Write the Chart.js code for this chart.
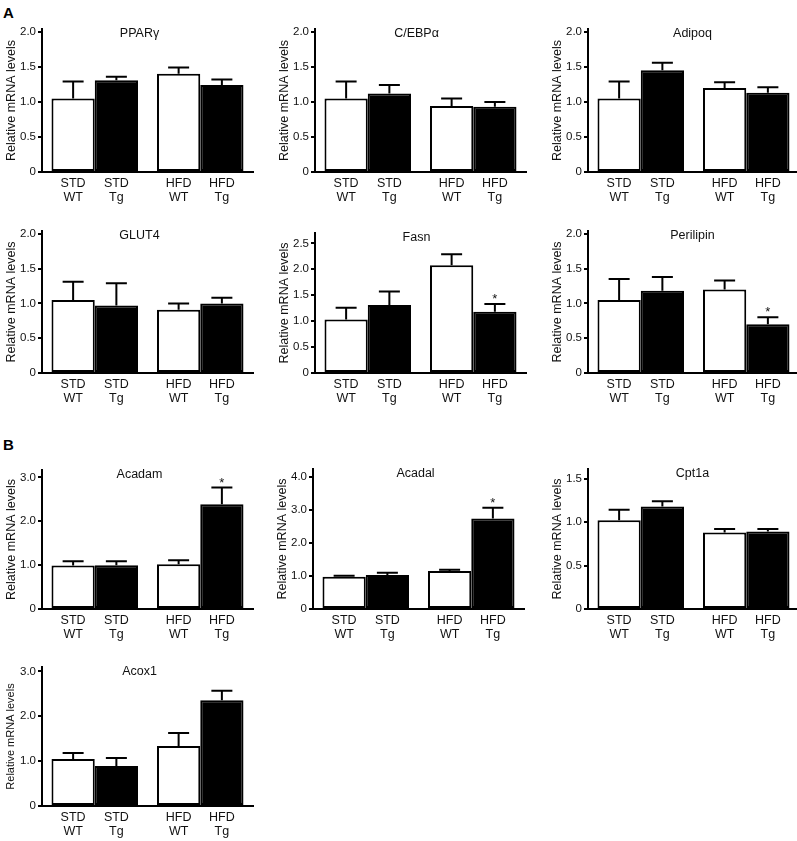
<!DOCTYPE html>
<html>
<head>
<meta charset="utf-8">
<script src="https://cdn.jsdelivr.net/npm/chart.js@4"></script>
<style>
    html, body { margin: 0; padding: 0; background: #fff; overflow: hidden; }
    #fig { position: relative; width: 797px; height: 841px; }
    #fig canvas { position: absolute; }
    .panel-letter { position: absolute; font: bold 15px "Liberation Sans", Arial, sans-serif; line-height: 1; color: #000; }
</style>
</head>
<body>
<div id="fig">
    <div class="panel-letter" style="left:3px;top:5px">A</div>
    <div class="panel-letter" style="left:3px;top:437px">B</div>
</div>
<script>
/* ================= DATA ================= */
const genes     = ["PPARγ", "C/EBPα", "Adipoq", "GLUT4", "Fasn", "Perilipin", "Acadam", "Acadal", "Cpt1a", "Acox1"];
const diets     = ["STD", "HFD"];
const genotypes = ["WT", "Tg"];

// mean relative mRNA levels per gene
const meanStdWT = [1.05, 1.05, 1.05, 1.05, 1.03, 1.05, 0.99, 0.98, 1.02, 1.05];
const meanStdTg = [1.31, 1.12, 1.45, 0.97, 1.31, 1.18, 1.00, 1.03, 1.18, 0.89];
const meanHfdWT = [1.40, 0.94, 1.20, 0.91, 2.08, 1.20, 1.02, 1.15, 0.88, 1.34];
const meanHfdTg = [1.24, 0.93, 1.13, 1.00, 1.18, 0.70, 2.39, 2.74, 0.89, 2.36];

// SEM (upper error bar only)
const semStdWT = [0.24, 0.24, 0.24, 0.26, 0.23, 0.30, 0.10, 0.03, 0.12, 0.13];
const semStdTg = [0.05, 0.12, 0.11, 0.32, 0.26, 0.20, 0.09, 0.07, 0.06, 0.18];
const semHfdWT = [0.09, 0.11, 0.08, 0.09, 0.21, 0.13, 0.09, 0.04, 0.04, 0.29];
const semHfdTg = [0.08, 0.07, 0.08, 0.08, 0.15, 0.10, 0.38, 0.33, 0.03, 0.21];

// * over HFD Tg
const signifHfdTg = [false, false, false, false, true, true, true, true, false, false];

// y axes
const yMax      = [2.04, 2.04, 2.04, 2.04, 2.7, 2.04, 3.17, 4.24, 1.61, 3.1];
const yTickMax  = [2, 2, 2, 2, 2.5, 2, 3, 4, 1.5, 3];
const yStep     = [0.5, 0.5, 0.5, 0.5, 0.5, 0.5, 1, 1, 0.5, 1];

/* ================= LAYOUT ================= */
// ax: y-axis x pixel, y0: zero line pixel, ppu: pixels per unit, tx: title shift
const panelPos = [
    { ax: 42,  y0: 172, ppu: 70,   tx: -8 },
    { ax: 315, y0: 172, ppu: 70,   tx: -4 },
    { ax: 588, y0: 172, ppu: 70,   tx: -1 },
    { ax: 42,  y0: 373, ppu: 69.5, tx: -8 },
    { ax: 315, y0: 373, ppu: 52,   tx: -4 },
    { ax: 588, y0: 373, ppu: 69.5, tx: -1 },
    { ax: 42,  y0: 609, ppu: 44,   tx: -8 },
    { ax: 313, y0: 609, ppu: 33,   tx: -3 },
    { ax: 588, y0: 609, ppu: 86.7, tx: -1 },
    { ax: 42,  y0: 806, ppu: 44.7, tx: -8 }
];

const FONT = '"Liberation Sans", Arial, sans-serif';
const AXIS_W = 42, PAD_T = 10, XLBL_H = 40, PLOT_W = 211;

/* error bars, significance stars, bar labels and gene title */
const panelDecor = {
    id: "panelDecor",
    afterDatasetsDraw(chart, args, opts) {
        const ctx = chart.ctx;
        const y = chart.scales.y;
        const area = chart.chartArea;

        chart.data.datasets.forEach(function (ds, di) {
            chart.getDatasetMeta(di).data.forEach(function (bar, j) {
                const v = ds.data[j];
                const yBar = y.getPixelForValue(v);
                const yErr = y.getPixelForValue(v + ds.sem[j]);

                ctx.save();
                ctx.strokeStyle = "#000";
                ctx.lineWidth = 2;
                ctx.beginPath();
                ctx.moveTo(bar.x, yBar);
                ctx.lineTo(bar.x, yErr);
                ctx.moveTo(bar.x - 10.5, yErr);
                ctx.lineTo(bar.x + 10.5, yErr);
                ctx.stroke();

                ctx.fillStyle = "#111";
                ctx.textAlign = "center";
                if (ds.stars && ds.stars[j]) {
                    ctx.font = "13px " + FONT;
                    ctx.textBaseline = "alphabetic";
                    ctx.fillText("*", bar.x, yErr - 1);
                }

                // two-line label under each bar
                ctx.font = "12.5px " + FONT;
                ctx.textBaseline = "middle";
                ctx.fillText(diets[j], bar.x, area.bottom + 11.5);
                ctx.fillText(ds.label, bar.x, area.bottom + 26);
                ctx.restore();
            });
        });

        ctx.save();
        ctx.fillStyle = "#111";
        ctx.font = "12.5px " + FONT;
        ctx.textAlign = "center";
        ctx.textBaseline = "middle";
        ctx.fillText(opts.title, (area.left + area.right) / 2 + opts.dx, area.top + 5);
        ctx.restore();
    }
};

const fig = document.getElementById("fig");

genes.forEach(function (gene, i) {
    const p = panelPos[i];
    const plotH = Math.round(yMax[i] * p.ppu);
    const W = AXIS_W + PLOT_W + 4;
    const H = PAD_T + plotH + XLBL_H;

    const canvas = document.createElement("canvas");
    canvas.width = W;
    canvas.height = H;
    canvas.style.left = (p.ax - AXIS_W) + "px";
    canvas.style.top = (p.y0 - plotH - PAD_T) + "px";
    canvas.style.width = W + "px";
    canvas.style.height = H + "px";
    fig.appendChild(canvas);

    const yTitleSize = i === 9 ? 11 : 12.5;

    new Chart(canvas, {
        type: "bar",
        data: {
            labels: diets,
            datasets: [{
                label: genotypes[0],
                data: [meanStdWT[i], meanHfdWT[i]],
                sem: [semStdWT[i], semHfdWT[i]],
                backgroundColor: "#fff",
                borderColor: "#000",
                borderWidth: 2,
                borderSkipped: false
            }, {
                label: genotypes[1],
                data: [meanStdTg[i], meanHfdTg[i]],
                sem: [semStdTg[i], semHfdTg[i]],
                stars: [false, signifHfdTg[i]],
                backgroundColor: "#000",
                borderColor: "#000",
                borderWidth: 2,
                borderSkipped: false
            }]
        },
        options: {
            responsive: false,
            animation: false,
            devicePixelRatio: 1,
            layout: { padding: { top: PAD_T, right: 4, bottom: 0, left: 0 } },
            datasets: { bar: { categoryPercentage: 0.82, barPercentage: 1 } },
            plugins: {
                legend: { display: false },
                tooltip: { enabled: false },
                panelDecor: { title: gene, dx: p.tx }
            },
            scales: {
                x: {
                    grid: { display: true, drawOnChartArea: false, drawTicks: false },
                    border: { color: "#000", width: 2 },
                    ticks: { display: false },
                    afterFit(scale) { scale.height = XLBL_H; }
                },
                y: {
                    min: 0,
                    max: yMax[i],
                    afterBuildTicks(scale) {
                        const ticks = [];
                        for (let k = 0; k * yStep[i] <= yTickMax[i] + 1e-9; k++) {
                            ticks.push({ value: Math.round(k * yStep[i] * 100) / 100 });
                        }
                        scale.ticks = ticks;
                    },
                    ticks: {
                        color: "#111",
                        font: { family: FONT, size: 11.5 },
                        padding: 2,
                        callback: function (v) { return v === 0 ? "0" : v.toFixed(1); }
                    },
                    grid: { drawOnChartArea: false, drawTicks: true, tickLength: 4, color: "#000", lineWidth: 2 },
                    border: { color: "#000", width: 2 },
                    title: {
                        display: true,
                        text: "Relative mRNA levels",
                        color: "#111",
                        font: { family: FONT, size: yTitleSize },
                        padding: { top: 4, bottom: 0 }
                    },
                    afterFit(scale) { scale.width = AXIS_W; }
                }
            }
        },
        plugins: [panelDecor]
    });
});
</script>
</body>
</html>
